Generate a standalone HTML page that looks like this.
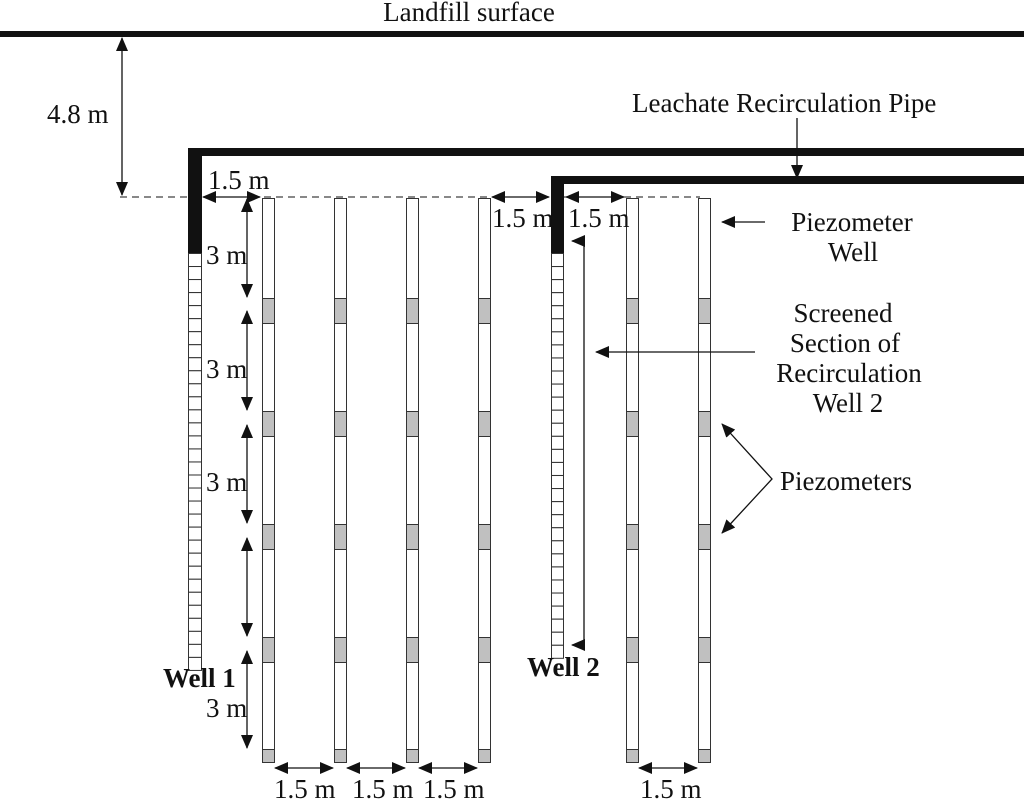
<!DOCTYPE html>
<html><head><meta charset="utf-8"><style>
body{margin:0;background:#fff}
svg{display:block}
text{font-family:"Liberation Serif",serif;font-size:27px;fill:#111}
</style></head><body>
<svg id="s" width="1024" height="799" viewBox="0 0 1024 799" xmlns="http://www.w3.org/2000/svg">
<defs>
<marker id="b" markerWidth="14" markerHeight="12" refX="13" refY="6" orient="auto-start-reverse" markerUnits="userSpaceOnUse">
<path d="M0,0 L14,6 L0,12 z" fill="#111"/></marker>
</defs>
<rect x="0" y="31" width="1024" height="6" fill="#111"/>
<text x="469" y="21" text-anchor="middle">Landfill surface</text>
<line x1="120" y1="197" x2="700" y2="197" stroke="#111" stroke-width="1" stroke-dasharray="7,5"/>
<line x1="122" y1="38" x2="122" y2="195" stroke="#111" stroke-width="1.3" marker-start="url(#b)" marker-end="url(#b)"/>
<text x="47" y="123">4.8 m</text>
<rect x="188" y="148" width="836" height="8" fill="#111"/>
<rect x="188" y="148" width="14" height="105" fill="#111"/>
<rect x="551" y="176" width="473" height="8" fill="#111"/>
<rect x="551" y="176" width="13" height="77" fill="#111"/>
<g id="g"></g>
<text x="632" y="112">Leachate Recirculation Pipe</text>
<line x1="797" y1="118" x2="797" y2="178" stroke="#111" stroke-width="1.3" marker-end="url(#b)"/>
<text x="852" y="231" text-anchor="middle">Piezometer</text>
<text x="853" y="261" text-anchor="middle">Well</text>
<line x1="765" y1="222" x2="722" y2="222" stroke="#111" stroke-width="1.3" marker-end="url(#b)"/>
<text x="843" y="322" text-anchor="middle">Screened</text>
<text x="845" y="352" text-anchor="middle">Section of</text>
<text x="849" y="382" text-anchor="middle">Recirculation</text>
<text x="848" y="412" text-anchor="middle">Well 2</text>
<line x1="755" y1="352" x2="596" y2="352" stroke="#111" stroke-width="1.3" marker-end="url(#b)"/>
<text x="780" y="490">Piezometers</text>
<polyline points="722,424 772,479 722,533" fill="none" stroke="#111" stroke-width="1.3" marker-start="url(#b)" marker-end="url(#b)"/>
<polyline points="572,241 584,241 584,645 572,645" fill="none" stroke="#111" stroke-width="1.3" marker-start="url(#b)" marker-end="url(#b)"/>
<text x="163" y="687" style="font-weight:bold">Well 1</text>
<text x="527" y="676" style="font-weight:bold">Well 2</text>
<text x="208" y="189">1.5 m</text>
<text x="492" y="227">1.5 m</text>
<text x="568" y="227">1.5 m</text>
</svg>
<script>
var g=document.getElementById('g'),h='';
function R(x,y,w,hh,f){h+='<rect x="'+x+'" y="'+y+'" width="'+w+'" height="'+hh+'" fill="'+f+'" stroke="#333" stroke-width="1"/>';}
function L(x1,y1,x2,y2){h+='<line x1="'+x1+'" y1="'+y1+'" x2="'+x2+'" y2="'+y2+'" stroke="#111" stroke-width="1.3" marker-end="url(#b)" marker-start="url(#b)"/>';}
function T(x,y,t){h+='<text x="'+x+'" y="'+y+'">'+t+'</text>';}
[262,334,406,478,626,698].forEach(function(x){
 R(x+.5,198.5,12,564,'#fff');
 [298,411,524,637].forEach(function(y){R(x+.5,y+.5,12,25,'#c0c0c0');});
 R(x+.5,749.5,12,13,'#c0c0c0');
});
for(var y=253;y<657;y+=13.03)R(188.5,y+.5,13,13,'#fff');
for(var y=253;y<645;y+=13.06)R(551.5,y+.5,12,13,'#fff');
[[198,298],[310,411],[424,524],[537,637],[650,749]].forEach(function(p){L(247,p[0]+1,247,p[1]-1);});
T(206,264,'3 m');T(206,378,'3 m');T(206,491,'3 m');T(206,717,'3 m');
L(203,197,260,197);L(492,197,549,197);L(566,197,624,197);
[[275,333],[347,405],[419,477],[639,697]].forEach(function(p){L(p[0],768,p[1],768);});
T(274,798,'1.5 m');T(352,798,'1.5 m');T(423,798,'1.5 m');T(640,798,'1.5 m');
g.innerHTML=h;
</script>
</body></html>
